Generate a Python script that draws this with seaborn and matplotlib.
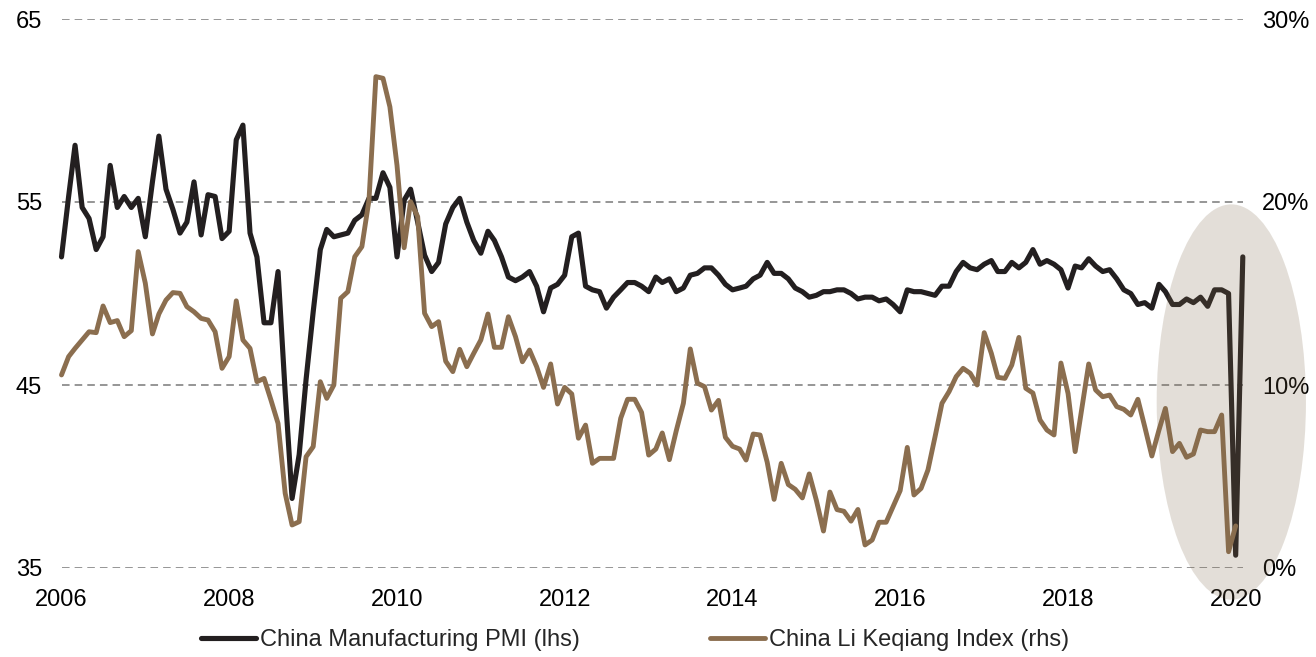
import numpy as np
import pandas as pd
import matplotlib
matplotlib.use("Agg")
import matplotlib.pyplot as plt
import matplotlib.dates as mdates
from matplotlib.patches import Ellipse
import seaborn as sns

# China manufacturing PMI (lhs), monthly
pmi = [52.0, 55.3, 58.1, 54.7, 54.1, 52.4, 53.1, 57.0, 54.7, 55.3, 54.7, 55.2,
       53.1, 56.1, 58.6, 55.7, 54.6, 53.3, 53.9, 56.1, 53.2, 55.4, 55.3, 53.0,
       53.4, 58.4, 59.2, 53.3, 52.0, 48.4, 48.4, 51.2, 44.6, 38.8, 41.2,
       45.3, 49.0, 52.4, 53.5, 53.1, 53.2, 53.3, 54.0, 54.3, 55.2, 55.2, 56.6,
       55.8, 52.0, 55.1, 55.7, 53.9, 52.1, 51.2, 51.7, 53.8, 54.7, 55.2, 53.9,
       52.9, 52.2, 53.4, 52.9, 52.0, 50.9, 50.7, 50.9, 51.2, 50.4, 49.0, 50.3,
       50.5, 51.0, 53.1, 53.3, 50.4, 50.2, 50.1, 49.2, 49.8, 50.2, 50.6, 50.6,
       50.4, 50.1, 50.9, 50.6, 50.8, 50.1, 50.3, 51.0, 51.1, 51.4, 51.4, 51.0,
       50.5, 50.2, 50.3, 50.4, 50.8, 51.0, 51.7, 51.1, 51.1, 50.8, 50.3, 50.1,
       49.8, 49.9, 50.1, 50.1, 50.2, 50.2, 50.0, 49.7, 49.8, 49.8, 49.6, 49.7,
       49.4, 49.0, 50.2, 50.1, 50.1, 50.0, 49.9, 50.4, 50.4, 51.2, 51.7, 51.4,
       51.3, 51.6, 51.8, 51.2, 51.2, 51.7, 51.4, 51.7, 52.4, 51.6, 51.8, 51.6,
       51.3, 50.3, 51.5, 51.4, 51.9, 51.5, 51.2, 51.3, 50.8, 50.2, 50.0, 49.4,
       49.5, 49.2, 50.5, 50.1, 49.4, 49.4, 49.7, 49.5, 49.8, 49.3, 50.2, 50.2,
       50.0, 35.7, 52.0]

# China Li Keqiang index (rhs, %), one month shorter
lki = [10.55, 11.55, 12.0, 12.46, 12.91, 12.86, 14.32, 13.41, 13.52, 12.64, 12.97, 17.29,
       15.56, 12.79, 13.88, 14.64, 15.05, 15.01, 14.28, 14.0, 13.64, 13.55, 12.91, 10.91,
       11.55, 14.6, 12.46, 12.0,
       10.18, 10.36, 9.18, 7.9, 4.08, 2.35, 2.53, 6.08, 6.63, 10.18, 9.27, 10.0,
       14.74, 15.1, 17.01, 17.56, 20.11, 26.85, 26.76, 25.2, 22.0, 17.5, 20.02, 19.2,
       13.92, 13.19, 13.46, 11.3,
       10.73, 11.95, 11.0, 11.73, 12.46, 13.88, 12.06, 12.06, 13.73, 12.64, 11.27, 11.91,
       11.0, 9.87, 11.15, 8.96, 9.87, 9.51, 7.09, 7.81, 5.72, 5.99, 5.99, 5.99,
       8.18, 9.22, 9.22, 8.5,
       6.17, 6.5, 7.38, 5.92, 7.5, 9.0, 11.97, 10.1, 9.91, 8.63, 9.16, 7.14,
       6.65, 6.5, 5.9, 7.32, 7.27, 5.78, 3.75, 5.72, 4.56, 4.3, 3.83, 5.14,
       3.7, 2.02, 4.15,
       3.19, 3.1, 2.56, 3.2, 1.26, 1.53, 2.5, 2.5, 3.35, 4.23, 6.59, 3.99,
       4.35, 5.36, 7.18, 9.0, 9.64, 10.46, 10.91, 10.64, 10.0, 12.86, 11.73, 10.42,
       10.36, 11.09, 12.6, 9.82,
       9.56, 8.09, 7.54, 7.27, 11.2, 9.54, 6.36, 8.63, 11.15, 9.73, 9.36, 9.45,
       8.82, 8.67, 8.36, 9.22, 7.72, 6.12, 7.54, 8.72, 6.36, 6.81, 6.05, 6.23,
       7.54, 7.45, 7.45, 8.36, 0.89, 2.3]

left_ticks = [35, 45, 55, 65]
right_ticks = [0, 10, 20, 30]
labels = ["China Manufacturing PMI (lhs)", "China Li Keqiang Index (rhs)"]

months = pd.date_range("2006-01-01", periods=len(pmi), freq="MS")
df_pmi = pd.DataFrame({"month": months, "value": pmi})
df_lki = pd.DataFrame({"month": months[:len(lki)], "value": lki})

BLACK = "#231F20"
BROWN = "#8B6E4F"
GRID = "#8E8E8E"

sns.set_style("white")
plt.rcParams["font.family"] = ["Liberation Sans", "DejaVu Sans"]

fig = plt.figure(figsize=(13.16, 6.57), dpi=100)
W, H = 1316, 657
ax = fig.add_axes([61.5 / W, 89 / H, (1242.8 - 61.5) / W, 549 / H])
ax2 = ax.twinx()

sns.lineplot(data=df_pmi, x="month", y="value", ax=ax, color=BLACK, lw=3.7,
             label=labels[0], legend=False, clip_on=False)
sns.lineplot(data=df_lki, x="month", y="value", ax=ax2, color=BROWN, lw=3.5,
             label=labels[1], legend=False, clip_on=False)

ax.set_xlim(months[0], months[-1])
ax.set_ylim(35, 65)
ax2.set_ylim(0, 30)
ax.set_yticks(left_ticks)
ax2.set_yticks(right_ticks)
ax2.set_yticklabels([f"{t}%" for t in right_ticks])
ax.xaxis.set_major_locator(mdates.YearLocator(2))
ax.xaxis.set_major_formatter(mdates.DateFormatter("%Y"))

ax.yaxis.grid(True, color=GRID, lw=1.3, linestyle=(0, (4.2, 2.8)))
ax.xaxis.grid(False)
for a in (ax, ax2):
    a.set_xlabel("")
    a.set_ylabel("")
    for s in a.spines.values():
        s.set_visible(False)
ax.tick_params(axis="x", length=0, pad=15, labelsize=17, colors="black")
ax.tick_params(axis="y", length=0, pad=14, labelsize=17, colors="black")
ax2.tick_params(axis="y", length=0, pad=14, labelsize=17, colors="black")

# highlight around the 2020 collapse
x0 = mdates.date2num(pd.Timestamp("2019-12-13"))
ax2.add_patch(Ellipse((x0, 9.07), width=650, height=21.6, facecolor="#7E674A",
                      edgecolor="none", alpha=0.21, zorder=2.2, clip_on=False))

handles = [ax.lines[0], ax2.lines[0]]
fig.legend(handles, labels, loc="center", bbox_to_anchor=(635 / W, 17 / H), ncol=2,
           frameon=False, fontsize=17, handlelength=2.35, handletextpad=0.17,
           columnspacing=5.5, borderpad=0)

fig.savefig("out.png", dpi=100)
